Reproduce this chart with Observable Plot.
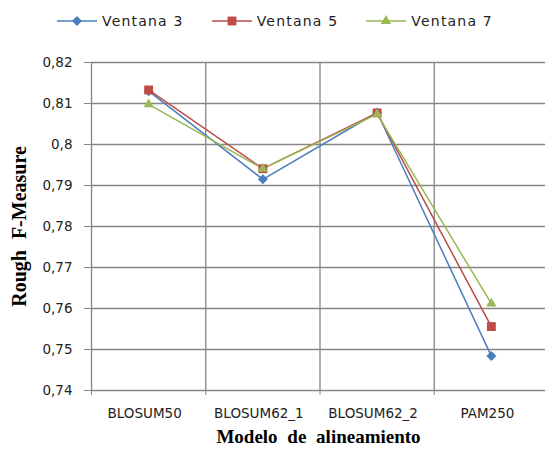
<!DOCTYPE html>
<html><head><meta charset="utf-8">
<script src="https://cdn.jsdelivr.net/npm/d3@7"></script>
<script src="https://cdn.jsdelivr.net/npm/@observablehq/plot@0.6"></script>
<style>
body{margin:0;background:#fff;width:545px;height:451px;overflow:hidden;}
#legend{height:40px;display:flex;align-items:center;padding-left:57px;font-family:"DejaVu Sans";font-size:14px;color:#222;letter-spacing:1.2px;box-sizing:border-box;padding-top:2px;}
.item{display:flex;align-items:center;margin-right:28px;}
.item svg{margin-right:5px;}
#chart svg{display:block;}
g[aria-label="x-axis label"] text{word-spacing:5px;}
g[aria-label="y-axis label"] text{word-spacing:6px;}
</style></head><body>
<div id="legend"></div>
<div id="chart"></div>
<script>
const categories = ["BLOSUM50", "BLOSUM62_1", "BLOSUM62_2", "PAM250"];
const seriesNames = ["Ventana 3", "Ventana 5", "Ventana 7"];
const ventana3 = [0.8130, 0.7915, 0.8078, 0.7484];
const ventana5 = [0.8133, 0.7941, 0.8077, 0.7556];
const ventana7 = [0.8098, 0.7941, 0.8074, 0.7612];
const yTicks = [0.74, 0.75, 0.76, 0.77, 0.78, 0.79, 0.80, 0.81, 0.82];
const colors = ["#4A7EBB", "#BE4B48", "#98B954"];

// square-shaped diamond like the spreadsheet marker
const diamondSym = {
  draw(context, size) {
    const h = Math.sqrt(size / 2);
    context.moveTo(0, -h);
    context.lineTo(h, 0);
    context.lineTo(0, h);
    context.lineTo(-h, 0);
    context.closePath();
  }
};
const symbols = [diamondSym, d3.symbolSquare, d3.symbolTriangle];
const symbolR = [4.0, 5.0, 3.8];

const allSeries = [ventana3, ventana5, ventana7];
const rows = allSeries.map((vals, s) => vals.map((v, i) => ({series: seriesNames[s], pos: i + 0.5, value: v})));
const bounds = d3.range(categories.length + 1);
const fmt = d => String(+d.toFixed(2)).replace(".", ",");

// legend
const legend = document.getElementById("legend");
seriesNames.forEach((name, s) => {
  const item = document.createElement("div");
  item.className = "item";
  const sym = d3.symbol(symbols[s], symbolR[s] * symbolR[s] * Math.PI)();
  item.innerHTML = `<svg width="40" height="12"><line x1="0" x2="40" y1="6" y2="6" stroke="${colors[s]}" stroke-width="1.5"/><path d="${sym}" transform="translate(20,6)" fill="${colors[s]}"/></svg><span>${name}</span>`;
  legend.appendChild(item);
});

const marks = [
  Plot.ruleY(yTicks, {stroke: "#868686", strokeWidth: 1.3}),
  Plot.ruleX(bounds, {stroke: "#868686", strokeWidth: 1.3}),
  Plot.axisY({ticks: yTicks, tickFormat: fmt, tickSize: 7, tickPadding: 12, label: null, stroke: "#868686", fontFamily: "DejaVu Sans", fontSize: 13.5, letterSpacing: 1, fill: "#222"}),
  Plot.axisY({ticks: [], label: "Rough F-Measure", labelAnchor: "center", labelArrow: "none", labelOffset: 80, dy: 5, fontFamily: "Liberation Serif", fontWeight: "bold", fontSize: 20, letterSpacing: 0.8, fill: "#000"}),
  Plot.axisX({ticks: bounds, tickFormat: () => "", tickSize: 5, label: null, stroke: "#868686"}),
  Plot.axisX({ticks: rows[0].map(d => d.pos), tickFormat: d => categories[Math.floor(d)], tickSize: 0, tickPadding: 18, dx: -4, label: null, fontFamily: "DejaVu Sans", fontSize: 13.5, letterSpacing: 0.7, fill: "#222"}),
  Plot.axisX({ticks: [], label: "Modelo de alineamiento", labelAnchor: "center", labelArrow: "none", labelOffset: 52, dx: -4, fontFamily: "Liberation Serif", fontWeight: "bold", fontSize: 19, letterSpacing: 0.5, fill: "#000"})
];
rows.forEach((data, s) => {
  marks.push(Plot.line(data, {x: "pos", y: "value", stroke: colors[s], strokeWidth: 1.5}));
});
rows.forEach((data, s) => {
  marks.push(Plot.dot(data, {x: "pos", y: "value", symbol: () => symbols[s], fill: colors[s], stroke: "none", r: symbolR[s]}));
});

const chart = Plot.plot({
  width: 545,
  height: 411,
  marginTop: 22,
  marginBottom: 61,
  marginLeft: 91,
  marginRight: 0,
  x: {type: "linear", domain: [0, categories.length], range: [91, 548]},
  y: {domain: [0.74, 0.82]},
  symbol: {type: "identity"},
  style: {background: "#fff", overflow: "visible"},
  marks
});
document.getElementById("chart").appendChild(chart);
</script>
</body></html>
